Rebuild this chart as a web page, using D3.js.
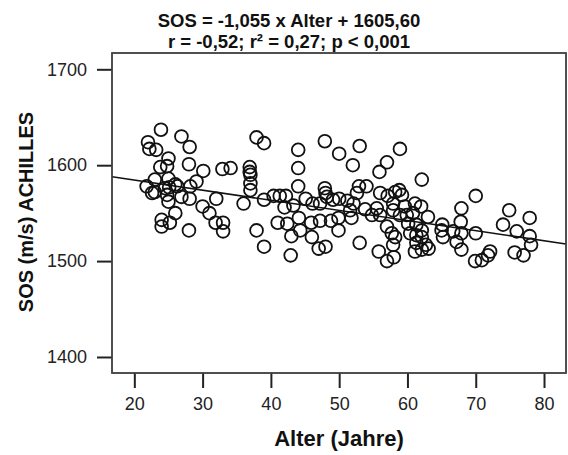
<!DOCTYPE html>
<html><head><meta charset="utf-8">
<script src="https://cdn.jsdelivr.net/npm/d3@7"></script>
<style>body{margin:0;background:#fff}svg{display:block}</style>
</head><body>
<script>
const ages = [21.8,22.0,22.2,22.6,23.0,23.0,23.2,23.9,23.8,24.0,24.0,24.8,25.0,25.0,24.8,25.0,25.2,26.0,26.0,26.3,26.9,26.9,28.0,28.1,28.2,28.1,28.0,29.1,30.0,30.1,31.0,32.0,31.9,33.0,33.0,32.9,34.1,36.0,36.9,36.9,37.0,37.0,37.0,37.9,37.9,39.0,39.0,39.0,40.4,41.3,41.0,42.2,42.0,42.4,42.9,43.0,43.3,44.0,44.0,44.0,44.1,44.3,45.1,46.1,45.9,46.0,47.0,48.0,47.2,47.2,47.9,47.9,48.0,48.2,48.8,49.1,49.9,49.9,50.0,50.0,51.2,51.6,51.8,52.0,52.1,52.6,52.9,53.0,53.0,54.0,53.8,54.8,55.5,56.0,55.9,56.0,55.8,57.0,57.1,57.0,57.0,57.7,57.9,57.9,57.9,58.0,58.2,58.2,58.8,59.2,58.9,58.9,59.6,59.9,60.1,60.4,61.1,60.8,61.1,61.3,61.3,61.3,62.0,62.1,62.1,62.1,62.1,62.7,63.0,63.1,65.1,65.0,65.2,66.7,67.2,67.9,67.8,67.9,67.9,70.0,70.0,69.9,70.9,71.8,72.1,74.0,74.9,75.7,76.0,77.0,77.9,77.9,78.1,25.1,24.5];
const sos = [1578,1624,1617,1571,1585,1572,1616,1637,1598,1543,1536,1569,1562,1607,1599,1586,1540,1580,1550,1578,1630,1567,1601,1619,1578,1565,1532,1583,1557,1594,1550,1565,1540,1540,1531,1596,1597,1560,1598,1593,1590,1581,1574,1532,1629,1623,1564,1515,1568,1568,1540,1568,1556,1539,1506,1526,1558,1616,1597,1578,1545,1532,1565,1560,1540,1525,1513,1515,1542,1560,1625,1576,1571,1567,1542,1564,1532,1545,1612,1565,1563,1553,1545,1600,1560,1571,1578,1519,1620,1578,1554,1548,1555,1571,1593,1548,1510,1603,1568,1536,1500,1529,1560,1553,1517,1504,1525,1572,1574,1569,1617,1548,1557,1548,1539,1529,1510,1550,1560,1538,1527,1519,1557,1585,1532,1512,1525,1517,1546,1513,1538,1532,1525,1531,1520,1555,1541,1529,1512,1568,1529,1500,1501,1506,1510,1538,1553,1509,1531,1506,1545,1526,1517,1577,1576];
const xTicks = [20,30,40,50,60,70,80];
const yTicks = [1400,1500,1600,1700];
const slope = -1.055, intercept = 1605.60;
const titleLines = ["SOS = -1,055 x Alter + 1605,60","r = -0,52; r\u00B2 = 0,27; p < 0,001"];
const xLabel = "Alter (Jahre)";
const yLabel = "SOS (m/s) ACHILLES";

const W=568,H=455;
const L=112,T=53,R=566,B=373;
const svg=d3.select("body").append("svg").attr("width",W).attr("height",H);
const x=d3.scaleLinear().domain([16.73,83.22]).range([L,R]);
const y=d3.scaleLinear().domain([1383.3,1717]).range([B,T]);
const font="'Liberation Sans', Arial, sans-serif";

svg.append("rect").attr("x",L).attr("y",T).attr("width",R-L).attr("height",B-T)
  .attr("fill","#fff").attr("stroke","#444").attr("stroke-width",1.5);

const xa=svg.append("g").attr("transform",`translate(0,${B})`)
  .call(d3.axisBottom(x).tickValues(xTicks).tickSize(15).tickPadding(9).tickFormat(d3.format("d")));
const ya=svg.append("g").attr("transform",`translate(${L},0)`)
  .call(d3.axisLeft(y).tickValues(yTicks).tickSize(15).tickPadding(10).tickFormat(d3.format("d")));
[xa,ya].forEach(a=>{a.select(".domain").remove();
  a.selectAll("line").attr("stroke","#222").attr("stroke-width",2);
  a.selectAll("text").attr("font-family",font).attr("font-size",18).attr("fill","#222");});

const clip=svg.append("clipPath").attr("id","c").append("rect").attr("x",L).attr("y",T).attr("width",R-L).attr("height",B-T);
const g=svg.append("g").attr("clip-path","url(#c)");
g.selectAll("circle").data(ages.map((a,i)=>[a,sos[i]])).join("circle")
  .attr("cx",d=>x(d[0])).attr("cy",d=>y(d[1])).attr("r",6.4)
  .attr("fill","none").attr("stroke","#111").attr("stroke-width",1.8);
const xd=x.domain();
g.append("line").attr("x1",x(xd[0])).attr("y1",y(slope*xd[0]+intercept))
  .attr("x2",x(xd[1])).attr("y2",y(slope*xd[1]+intercept)).attr("stroke","#111").attr("stroke-width",1.6);

svg.append("rect").attr("x",L).attr("y",T).attr("width",R-L).attr("height",B-T)
  .attr("fill","none").attr("stroke","#444").attr("stroke-width",1.5);

svg.selectAll(".title").data(titleLines).join("text").attr("class","title")
  .attr("x",289).attr("y",(d,i)=>27+i*21).attr("text-anchor","middle")
  .attr("font-family",font).attr("font-weight","bold").attr("font-size",18.5).attr("fill","#111").text(d=>d);
svg.append("text").attr("x",339).attr("y",446).attr("text-anchor","middle")
  .attr("font-family",font).attr("font-weight","bold").attr("font-size",22).attr("fill","#111").text(xLabel);
svg.append("text").attr("transform","translate(33,212) rotate(-90)").attr("text-anchor","middle")
  .attr("font-family",font).attr("font-weight","bold").attr("font-size",20).attr("fill","#111").text(yLabel);
</script>
</body></html>
